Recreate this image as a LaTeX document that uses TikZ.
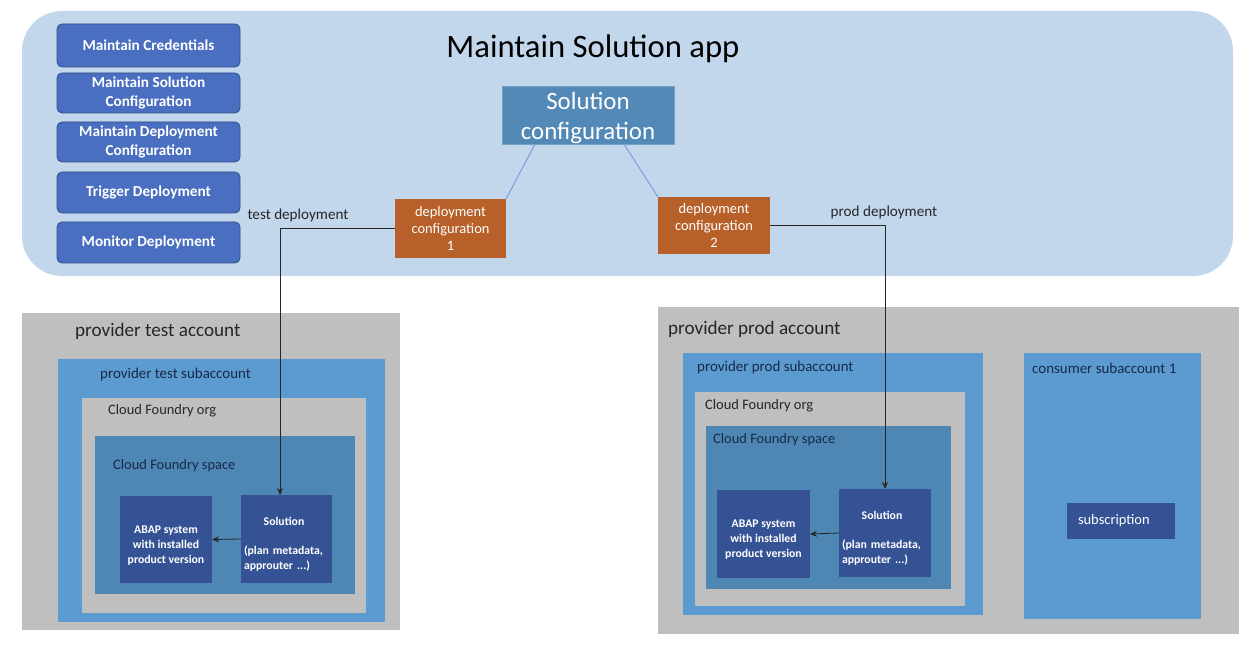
\documentclass[tikz,border=0pt]{standalone}
\usepackage{fontspec}
\setmainfont{Carlito}
\usetikzlibrary{arrows.meta,calc}
\definecolor{bandc}{HTML}{C3D7EC}
\definecolor{btnc}{HTML}{4A6FC0}
\definecolor{btnd}{HTML}{2F4F8A}
\definecolor{solc}{HTML}{5389B6}
\definecolor{orgc}{HTML}{B7602A}
\definecolor{grayc}{HTML}{BFBFBF}
\definecolor{subc}{HTML}{5B9BCF}
\definecolor{spacec}{HTML}{4F87B4}
\definecolor{darkc}{HTML}{355394}
\definecolor{linkc}{HTML}{7EA3DA}
\definecolor{txtc}{HTML}{262626}
\definecolor{navyc}{HTML}{17294A}
\tikzset{
  boxat/.style={anchor=north west, inner sep=0pt, outer sep=0pt},
  btn/.style={boxat, fill=btnc, draw=btnd, line width=0.8bp, rounded corners=5bp, text=white,
    align=center, font=\fontsize{15.3}{19}\selectfont\bfseries, minimum width=183bp},
  deploy/.style={boxat, fill=orgc, text=white, align=center, font=\fontsize{14.5}{17}\selectfont},
  dark/.style={boxat, fill=darkc, text=white, font=\fontsize{11.8}{15}\selectfont\bfseries},
  lbl/.style={anchor=west, inner sep=0pt},
  sublbl/.style={font=\fontsize{15}{17}\selectfont},
  cflbl/.style={font=\fontsize{14.5}{17}\selectfont},
  deplbl/.style={font=\fontsize{15.2}{17}\selectfont},
  arr/.style={-{Stealth[length=7bp,width=6bp]}, line width=0.8bp, draw=black!85},
}
\begin{document}
\begin{tikzpicture}[x=1bp,y=-1bp]
\useasboundingbox (0,0) rectangle (1250,646);
% top band
\node[boxat, fill=bandc, rounded corners=40bp, minimum width=1211bp, minimum height=265bp] (band) at (22,11) {};
\node[anchor=center, text=black, font=\fontsize{32.8}{38}\selectfont] (title) at (593,49) {Maintain Solution app};
% buttons
\node[btn, minimum height=43bp] (b1) at (57,24) {Maintain Credentials};
\node[btn, minimum height=40bp] (b2) at (57,73) {Maintain Solution\\Configuration};
\node[btn, minimum height=40bp] (b3) at (57,122) {Maintain Deployment\\Configuration};
\node[btn, minimum height=41bp] (b4) at (57,172) {Trigger Deployment};
\node[btn, minimum height=41bp] (b5) at (57,222) {Monitor Deployment};
% solution configuration
\node[boxat, fill=solc, draw=solc!80!white, line width=0.6bp, text=white, align=center,
  font=\fontsize{25}{30}\selectfont, minimum width=172bp, minimum height=56bp] (solcfg) at (502,86) {\rule{0pt}{24bp}Solution\\configuration};
\node[deploy, minimum width=111bp, minimum height=59bp] (dc1) at (395,199) {deployment\\configuration\\1};
\node[deploy, minimum width=112bp, minimum height=57bp] (dc2) at (658,197) {deployment\\configuration\\2};
\draw[linkc, line width=1.1bp] ($(solcfg.south west)+(33,0)$) -- (dc1.north east);
\draw[linkc, line width=1.1bp] ($(solcfg.south west)+(122,0)$) -- (dc2.north west);
\node[anchor=center, text=txtc, deplbl] (tlab) at (298,215) {test deployment};
\node[anchor=center, text=txtc, deplbl] (plab) at (884,212) {prod deployment};
% provider test account
\node[boxat, fill=grayc, minimum width=378bp, minimum height=317bp] (acctT) at (22,313) {};
\node[lbl, text=txtc, font=\fontsize{19.2}{22}\selectfont] (acctTl) at (75,331) {provider test account};
\node[boxat, fill=subc, minimum width=327bp, minimum height=263bp] (subT) at (58,359) {};
\node[lbl, text=navyc, sublbl] (subTl) at (100,375) {provider test subaccount};
\node[boxat, fill=grayc, minimum width=284bp, minimum height=215bp] (orgT) at (82,398) {};
\node[lbl, text=txtc, cflbl] (orgTl) at (108,411) {Cloud Foundry org};
\node[boxat, fill=spacec, minimum width=260bp, minimum height=158bp] (spaceT) at (95,436) {};
\node[lbl, text=navyc, cflbl] (spaceTl) at (113,466) {Cloud Foundry space};
\node[dark, align=center, minimum width=92bp, minimum height=87bp] (abapT) at (120,496) {\rule{0pt}{19bp}ABAP system\\with installed\\product version};
\node[dark, align=left, text width=85bp, inner xsep=3bp, minimum width=91bp, minimum height=88bp] (solT) at (241,495)
  {\makebox[80bp]{\rule{0pt}{19bp}Solution}\\[14bp](plan metadata,\\approuter ...)};
\coordinate (tin) at (280,495);
\draw[arr] (dc1.west) -| (tin);
\draw[arr] (solT.west) -- (abapT.east);
% provider prod account
\node[boxat, fill=grayc, minimum width=581bp, minimum height=327bp] (acctP) at (658,307) {};
\node[lbl, text=txtc, font=\fontsize{19.2}{22}\selectfont] (acctPl) at (668,329) {provider prod account};
\node[boxat, fill=subc, minimum width=300bp, minimum height=262bp] (subP) at (683,353) {};
\node[lbl, text=navyc, sublbl] (subPl) at (697,368) {provider prod subaccount};
\node[boxat, fill=subc, minimum width=177bp, minimum height=266bp] (consP) at (1024,353) {};
\node[lbl, text=navyc, sublbl] (consPl) at (1032,368) {consumer subaccount 1};
\node[boxat, fill=darkc, text=white, font=\fontsize{14.5}{17}\selectfont, align=left, text width=86bp, inner xsep=11bp,
  minimum width=108bp, minimum height=36bp] (subs) at (1067,503) {subscription};
\node[boxat, fill=grayc, minimum width=270bp, minimum height=214bp] (orgP) at (695,392) {};
\node[lbl, text=txtc, cflbl] (orgPl) at (705,406) {Cloud Foundry org};
\node[boxat, fill=spacec, minimum width=245bp, minimum height=163bp] (spaceP) at (706,426) {};
\node[lbl, text=navyc, cflbl] (spacePl) at (713,440) {Cloud Foundry space};
\node[dark, align=center, minimum width=93bp, minimum height=88bp] (abapP) at (717,490) {\rule{0pt}{19bp}ABAP system\\with installed\\product version};
\node[dark, align=left, text width=86bp, inner xsep=3bp, minimum width=92bp, minimum height=88bp] (solP) at (839,489)
  {\makebox[80bp]{\rule{0pt}{19bp}Solution}\\[14bp](plan metadata,\\approuter ...)};
\draw[arr] (dc2.east) -| (solP.north);
\draw[arr] (solP.west) -- (abapP.east);
\end{tikzpicture}
\end{document}
